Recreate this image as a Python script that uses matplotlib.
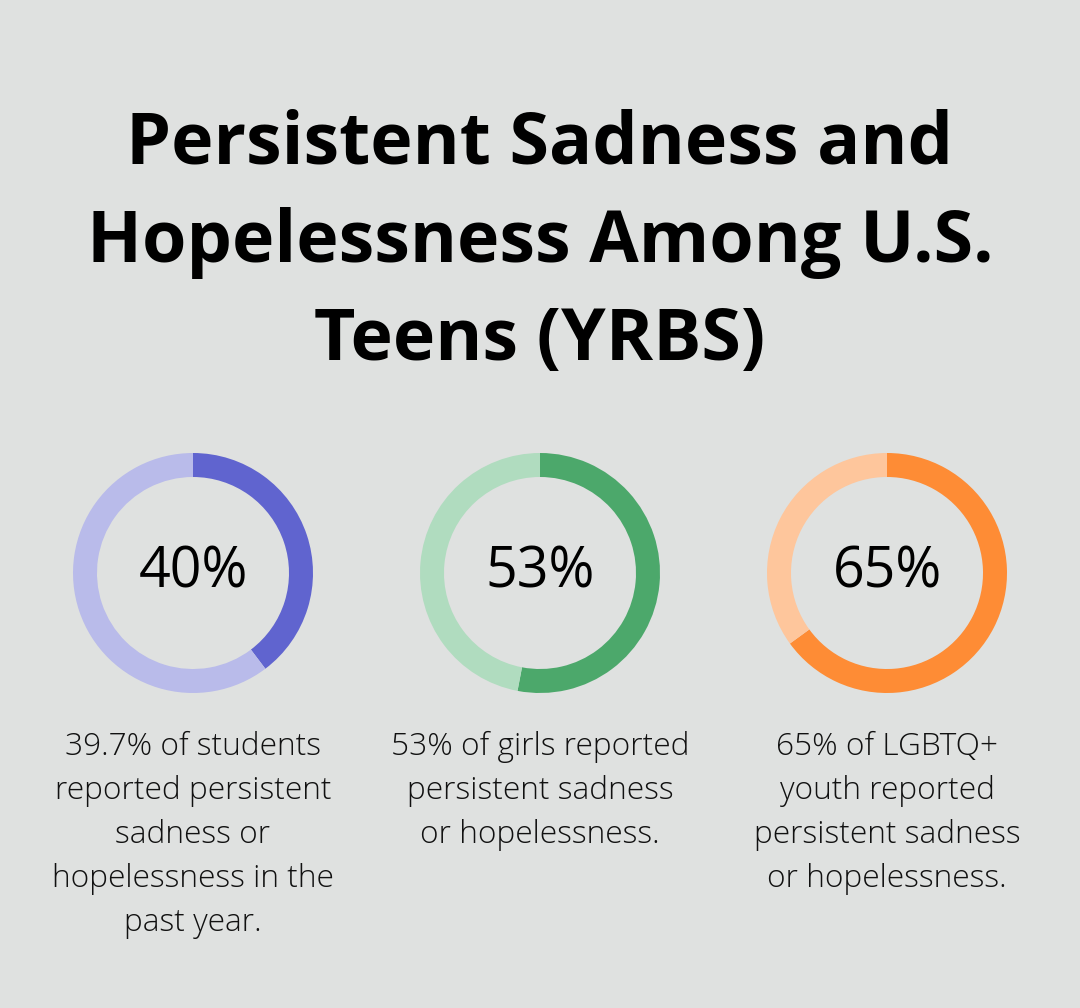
import matplotlib
matplotlib.use("Agg")
import matplotlib.pyplot as plt

W, H = 1080, 1008
BG = "#dfe1e0"

title_lines = ["Persistent Sadness and", "Hopelessness Among U.S.", "Teens (YRBS)"]
values = [39.7, 53, 65]
center_labels = ["40%", "53%", "65%"]
dark_colors = ["#6064cf", "#4ca86b", "#fe8c35"]
light_colors = ["#b9bbea", "#b0dcbf", "#fec69c"]
descriptions = [
    ["39.7% of students", "reported persistent", "sadness or", "hopelessness in the", "past year."],
    ["53% of girls reported", "persistent sadness", "or hopelessness."],
    ["65% of LGBTQ+", "youth reported", "persistent sadness", "or hopelessness."],
]

fig = plt.figure(figsize=(W / 100, H / 100), dpi=100)
fig.patch.set_facecolor(BG)

# Title
title_baselines = [163, 262, 360]
for line, yb in zip(title_lines, title_baselines):
    fig.text(0.5, 1 - yb / H, line, ha="center", va="baseline",
             fontsize=51.7, fontweight="bold", family=["Open Sans", "DejaVu Sans"], color="#000000")

centers_x = [193, 540, 887]
cy = 573
R = 120
ring = 24

for i, (cx, v) in enumerate(zip(centers_x, values)):
    ax = fig.add_axes([(cx - R) / W, 1 - (cy + R) / H, 2 * R / W, 2 * R / H])
    ax.pie([v, 100 - v], colors=[dark_colors[i], light_colors[i]], startangle=90,
           counterclock=False, radius=1,
           wedgeprops=dict(width=ring / R, linewidth=0))
    ax.set_xlim(-1, 1)
    ax.set_ylim(-1, 1)
    ax.set_aspect("equal")
    ax.axis("off")
    ax.text(0, 0, center_labels[i], ha="center", va="center", fontsize=40,
            family=["Open Sans", "DejaVu Sans"], color="#000000")

    baselines = [755 + 44 * k for k in range(len(descriptions[i]))]
    for line, yb in zip(descriptions[i], baselines):
        fig.text(cx / W, 1 - yb / H, line, ha="center", va="baseline", fontsize=22.8,
                 fontweight="light", family=["Open Sans", "DejaVu Sans"], color="#111111")

fig.savefig("out.png", dpi=100, facecolor=BG)
